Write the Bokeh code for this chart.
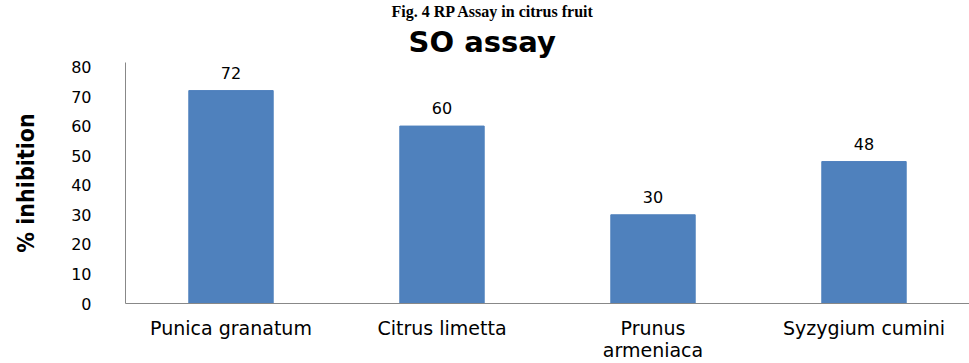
from bokeh.plotting import figure
from bokeh.models import ColumnDataSource, FixedTicker, Range1d, Title
from bokeh.core.properties import value
from bokeh.embed import file_html
from bokeh.resources import INLINE

categories = ["Punica granatum", "Citrus limetta", "Prunus\narmeniaca", "Syzygium cumini"]
inhibition = [72, 60, 30, 48]
y_ticks = [0, 10, 20, 30, 40, 50, 60, 70, 80]

src = ColumnDataSource(dict(cat=categories, val=inhibition, lab=[str(v) for v in inhibition]))

p = figure(width=969, height=363, x_range=categories, y_range=Range1d(0, 81.5),
           output_backend="svg", toolbar_location=None, title=None,
           min_border_left=125, min_border_right=0, min_border_top=61, min_border_bottom=60)
p.vbar(x="cat", top="val", width=0.40, source=src, color="#4F81BD")
p.text(x="cat", y="val", text="lab", source=src, y_offset=-18, text_align="center",
       text_baseline="middle", text_font=value("DejaVu Sans"), text_font_size="16px",
       text_color="#000000")

p.xgrid.visible = False
p.ygrid.visible = False
p.outline_line_color = None
p.background_fill_color = "white"
p.border_fill_color = "white"

p.yaxis.ticker = FixedTicker(ticks=y_ticks)
p.yaxis.major_tick_line_color = None
p.yaxis.minor_tick_line_color = None
p.yaxis.axis_line_color = "#888888"
p.yaxis.major_label_text_font = "DejaVu Sans"
p.yaxis.major_label_text_font_size = "16px"
p.yaxis.major_label_text_color = "#000000"
p.yaxis.major_label_standoff = 28
p.yaxis.axis_label = "% inhibition"
p.yaxis.axis_label_text_font = "DejaVu Sans Condensed"
p.yaxis.axis_label_text_font_style = "bold"
p.yaxis.axis_label_text_font_size = "23px"
p.yaxis.axis_label_text_color = "#000000"
p.yaxis.axis_label_standoff = 29

p.xaxis.major_tick_line_color = None
p.xaxis.minor_tick_line_color = None
p.xaxis.axis_line_color = "#888888"
p.xaxis.major_label_text_font = "DejaVu Sans"
p.xaxis.major_label_text_font_size = "19px"
p.xaxis.major_label_text_line_height = 1.0
p.xaxis.major_label_text_color = "#000000"
p.xaxis.major_label_standoff = 7
p.x_range.range_padding = 0

p.add_layout(Title(text="SO assay", align="left", offset=283, standoff=7,
                   text_font="DejaVu Sans", text_font_style="bold",
                   text_font_size="29px", text_color="#000000"), "above")
p.add_layout(Title(text="Fig. 4 RP Assay in citrus fruit", align="left", offset=266,
                   standoff=0, text_font="Liberation Serif", text_font_style="bold",
                   text_font_size="16px", text_color="#000000"), "above")

open("out.html", "w").write(file_html(p, INLINE))
